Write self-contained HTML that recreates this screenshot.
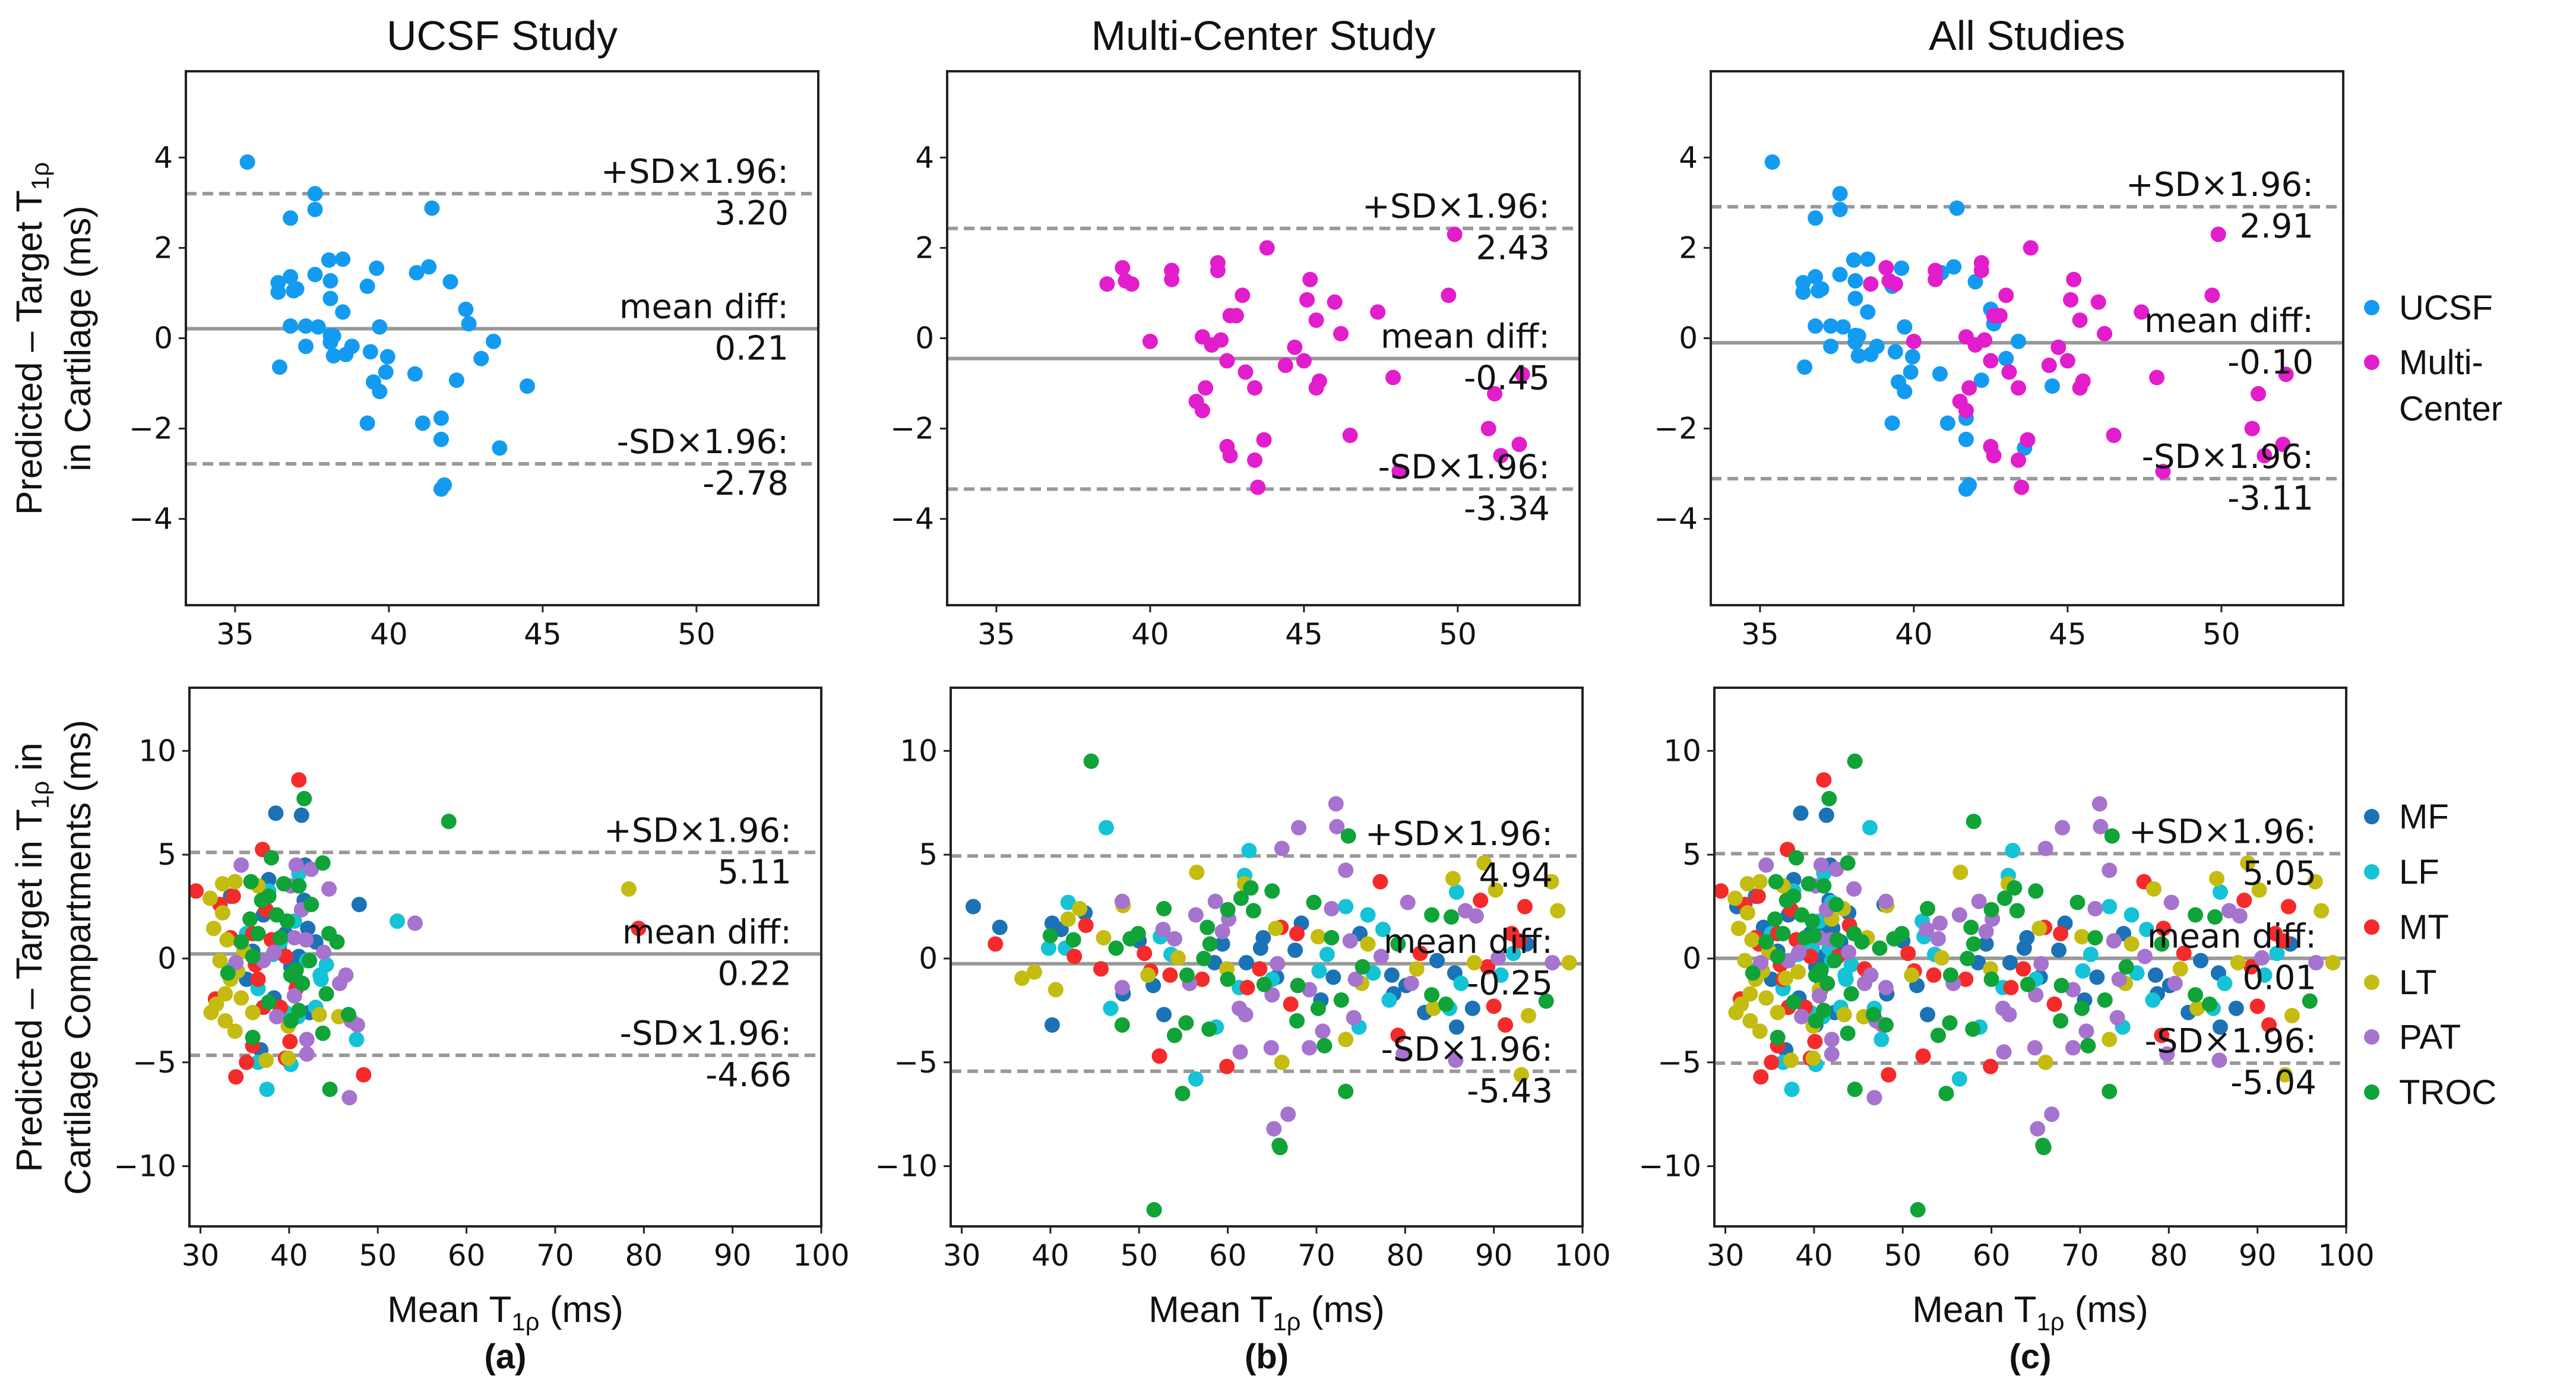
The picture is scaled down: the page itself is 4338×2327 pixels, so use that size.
<!DOCTYPE html>
<html><head><meta charset="utf-8"><style>
html,body{margin:0;padding:0;background:#fff}
svg{display:block}
text{font-family:"Liberation Sans",sans-serif;fill:#111}
.m{font-family:"DejaVu Sans","Liberation Sans",sans-serif}
</style></head><body>
<svg id="fig" width="4338" height="2327" viewBox="0 0 4338 2327" xmlns="http://www.w3.org/2000/svg"></svg>
<script>
// ---- Top row data: mean T1rho (x) and difference (y) ----
const ucsfX=[35.4,37.6,37.6,36.8,41.4,38.05,38.5,39.6,40.9,41.3,37.6,36.8,38.1,42.0,36.4,36.4,36.9,37.0,39.3,38.1,38.5,42.5,42.6,36.8,37.3,37.7,39.7,38.1,38.2,38.1,43.4,37.3,38.8,38.2,38.6,39.4,39.96,43.0,36.45,39.9,40.85,42.2,39.5,39.7,44.5,39.3,41.1,41.7,41.7,43.6,41.8,41.7];
const ucsfY=[3.9,3.2,2.85,2.66,2.88,1.73,1.75,1.55,1.45,1.58,1.41,1.36,1.27,1.25,1.23,1.02,1.05,1.09,1.15,0.88,0.58,0.64,0.32,0.27,0.27,0.25,0.25,0.06,0.05,-0.09,-0.07,-0.18,-0.18,-0.39,-0.36,-0.3,-0.41,-0.45,-0.64,-0.75,-0.79,-0.93,-0.97,-1.18,-1.06,-1.88,-1.88,-1.77,-2.24,-2.43,-3.25,-3.34];
const multiX=[38.6,39.1,39.2,39.4,40.0,40.7,40.7,42.2,42.2,42.6,42.8,43.8,43.0,42.0,42.3,42.5,41.8,41.7,41.5,42.5,42.6,43.4,43.5,43.7,43.1,43.4,44.4,44.7,45.2,45.1,45.4,45.5,45.4,46.0,46.2,46.5,47.4,47.9,48.1,49.7,49.9,51.0,51.2,51.4,52.1,52.0,45.0,41.7];
const multiY=[1.2,1.56,1.27,1.2,-0.07,1.5,1.3,1.67,1.5,0.5,0.5,2.0,0.95,-0.15,-0.04,-0.5,-1.1,-1.6,-1.4,-2.4,-2.6,-2.7,-3.3,-2.25,-0.75,-1.1,-0.6,-0.2,1.3,0.85,0.4,-0.95,-1.1,0.8,0.1,-2.15,0.58,-0.87,-2.95,0.95,2.3,-2.0,-1.23,-2.6,-0.8,-2.35,-0.5,0.03];
// ---- Bottom row data: per compartment, UCSF (u) and Multi-center (m) ----
const uMFx=[38.5,41.4,47.9,37.7,41.8,42.1,42.3,35.9,39.6,33.4,37.1,40.8,38.3,41.1,35.2,43.0,41.7,36.8,38.9,40.2];
const uMFy=[7.0,6.9,2.6,3.8,4.5,1.45,-2.6,0.35,1.2,3.0,2.1,-1.0,-1.9,0.1,-1.0,0.8,2.8,-4.4,0.6,-0.4];
const uLFx=[52.2,37.5,40.2,47.6,40.6,36.5,39.0,35.2,42.0,43.5,33.4,37.7,43.6,41.0,39.6,41.1,43.0,36.5,38.2,44.2];
const uLFy=[1.8,-6.3,-5.1,-3.9,1.8,-1.45,0.8,1.2,-0.1,-0.8,-0.55,3.25,-1.0,-2.8,-2.6,4.1,-2.35,-5.0,0.2,-0.3];
const uMTx=[41.1,37.0,29.5,79.4,48.4,34.0,35.2,35.9,40.1,31.7,33.7,37.4,35.9,39.6,33.4,36.5,39.0,40.8,32.2,37.1,39.6,36.2,38.0];
const uMTy=[8.6,5.25,3.25,1.45,-5.6,-5.7,-5.0,-4.2,-4.0,-1.95,3.0,2.35,1.2,0.1,1.0,-1.0,-2.35,-1.45,2.6,-2.35,-4.8,-0.3,0.9];
const uLTx=[78.3,31.1,31.2,32.8,33.9,32.5,33.9,31.5,32.5,32.2,33.4,34.6,32.8,37.4,39.9,35.9,34.9,36.5,43.4,45.6,39.9,33.0,34.2,31.8];
const uLTy=[3.35,2.9,-2.6,-3.0,-3.5,3.6,3.7,1.45,2.2,-0.1,-1.0,-1.9,-1.7,-4.9,-4.8,-2.6,0.35,3.5,-2.7,-2.8,-3.25,0.9,-0.6,-2.2];
const uPATx=[34.6,40.8,42.5,44.5,54.2,46.8,47.7,46.4,45.7,42.0,38.6,41.4,40.6,38.3,34.0,40.6,42.0,40.2,37.1,47.0,43.9,41.9];
const uPATy=[4.5,4.5,4.3,3.35,1.7,-6.7,-3.2,-0.8,-1.2,-3.9,-2.8,2.35,1.0,0.3,-0.2,-1.8,-4.6,3.5,-0.1,-3.0,0.3,0.9];
const uTROCx=[41.7,58.0,43.8,38.0,35.7,39.4,41.1,42.5,37.7,35.6,36.5,39.0,40.8,40.2,44.5,45.4,42.3,33.1,44.2,37.7,35.9,40.2,46.7,44.6,43.8,41.1,35.9,38.6,34.6,36.9,39.8,41.5];
const uTROCy=[7.7,6.6,4.6,4.85,3.7,3.6,3.5,2.6,3.0,1.9,1.2,1.0,-0.55,-0.8,1.2,0.8,-0.1,-0.7,-1.7,-2.1,-3.8,-3.0,-2.7,-6.3,-3.6,-2.5,0.1,2.1,0.8,2.8,1.8,-1.2];
const mMFx=[31.3,34.3,40.2,40.2,41.2,43.9,48.2,50.0,51.6,52.8,58.5,59.4,63.7,64.0,62.1,65.5,68.3,67.6,70.5,71.9,74.9,78.5,78.7,80.1,82.2,83.6,85.6,85.8,87.6,93.7];
const mMFy=[2.5,1.5,1.7,-3.2,1.4,2.2,-1.7,0.85,-1.3,-2.7,-0.2,0.7,0.5,1.0,-0.2,-0.9,1.7,0.4,-2.0,-0.9,1.2,-0.8,-1.7,-1.3,-2.6,-0.1,-0.7,-3.3,-2.4,0.7];
const mLFx=[46.3,62.4,61.9,42.0,39.8,41.7,46.8,52.4,53.6,56.4,58.7,61.3,65.0,70.3,73.3,75.8,77.5,76.4,74.8,78.2,85.8,86.3,85.0,90.8,92.2,71.2];
const mLFy=[6.3,5.2,4.0,2.7,0.5,0.5,-2.4,1.05,0.2,-5.8,-3.3,-1.4,-1.0,-0.6,2.5,2.1,1.4,-0.7,-3.3,-2.0,3.2,-1.2,-2.4,-0.8,0.25,0.2];
const mMTx=[33.8,44.0,42.7,45.7,50.6,51.3,52.3,53.5,57.1,59.9,62.2,63.6,66.0,67.1,67.8,77.2,79.2,81.7,88.5,90.0,91.3,93.5,92.0,92.9,89.3];
const mMTy=[0.7,1.6,0.1,-0.5,0.25,-0.6,-4.7,-0.8,-1.0,-5.2,-1.4,-0.5,1.5,-2.2,1.2,3.7,-3.7,0.25,2.8,-2.3,-3.2,2.5,1.2,0.85,-0.4];
const mLTx=[36.8,38.2,40.6,42.0,43.3,46.0,48.2,51.0,54.4,56.5,59.9,61.9,65.4,66.1,70.2,73.3,75.1,75.8,81.3,83.2,85.4,88.9,90.2,93.9,93.1,96.5,97.2,98.5,87.8];
const mLTy=[-0.95,-0.65,-1.5,1.9,2.4,1.0,2.55,-0.8,0.03,4.15,-0.5,3.6,1.45,-5.0,1.05,-3.9,-1.2,0.7,-0.5,-2.4,3.85,4.6,3.3,-2.75,-5.6,3.7,2.3,-0.2,-0.2];
const mPATx=[48.1,48.1,52.7,54.0,55.7,56.4,58.6,59.4,60.1,61.3,62.0,61.4,64.9,65.2,66.8,65.0,65.6,66.1,68.0,69.2,69.2,70.7,72.2,72.3,73.3,71.7,73.8,74.2,74.4,77.3,80.3,80.7,79.8,85.7,86.8,88.0,90.5,96.6];
const mPATy=[2.75,-1.4,1.4,0.95,-1.2,2.1,2.75,1.3,1.9,-2.4,-2.7,-4.5,-4.3,-8.2,-7.5,-1.75,-0.25,5.3,6.3,-4.3,-1.5,-3.5,7.45,6.35,4.25,2.4,0.85,-2.85,-1.0,0.1,2.7,-1.2,-4.6,-4.9,2.3,2.05,0.03,-0.2];
const mTROCx=[44.6,40.0,42.6,47.4,48.1,49.0,49.9,52.8,54.0,54.9,55.4,55.3,57.7,58.0,57.9,57.3,60.0,60.0,61.5,62.6,62.9,64.1,65.0,65.9,65.8,67.9,67.8,69.7,70.2,70.9,71.7,72.8,73.6,73.3,75.2,79.2,83.0,83.0,84.6,85.2,95.9,51.7];
const mTROCy=[9.5,1.1,0.9,0.5,-3.2,0.95,1.2,2.4,-3.7,-6.5,-0.8,-3.1,1.5,0.7,-3.4,0.0,2.35,-1.0,2.9,3.4,2.3,-1.25,3.25,-9.1,-9.0,-1.3,-3.0,2.7,-2.4,-4.2,1.0,-2.0,5.9,-6.4,-0.4,0.7,2.1,-1.75,-2.2,2.0,-2.05,-12.1];
// ---- Reference lines [upper, mean, lower] ----
const topLines=[[3.20,0.21,-2.78],[2.43,-0.45,-3.34],[2.91,-0.10,-3.11]];
const botLines=[[5.11,0.22,-4.66],[4.94,-0.25,-5.43],[5.05,0.01,-5.04]];
const topLineLabels=[["3.20","0.21","-2.78"],["2.43","-0.45","-3.34"],["2.91","-0.10","-3.11"]];
const botLineLabels=[["5.11","0.22","-4.66"],["4.94","-0.25","-5.43"],["5.05","0.01","-5.04"]];
const titles=["UCSF Study","Multi-Center Study","All Studies"];
const panelTags=["(a)","(b)","(c)"];
const topXTicks=[35,40,45,50];
const topYTicks=[-4,-2,0,2,4];
const botXTicks=[30,40,50,60,70,80,90,100];
const botYTicks=[-10,-5,0,5,10];
const compNames=["MF","LF","MT","LT","PAT","TROC"];

const compColors=["#1b72b6","#14c3d6","#f52a2a","#c4bc10","#a673cf","#10a337"];
const ucsfColor="#139bf2", multiColor="#e21dcc";
const NS="http://www.w3.org/2000/svg";
const svg=document.getElementById('fig');
function el(tag,attrs,parent){const e=document.createElementNS(NS,tag);for(const k in attrs)e.setAttribute(k,attrs[k]);(parent||svg).appendChild(e);return e;}
const offs=[0,1282,2568];
const TOP={x0:313,x1:1378,y0:120,y1:1019,xmin:33.4,xmax:53.96,ymin:-5.91,ymax:5.91};
const BOT={x0:319,x1:1383,y0:1158,y1:2065,xmin:28.76,xmax:100,ymin:-12.9,ymax:13.04};
function sx(P,o,v){return o+P.x0+(v-P.xmin)/(P.xmax-P.xmin)*(P.x1-P.x0);}
function sy(P,v){return P.y1-(v-P.ymin)/(P.ymax-P.ymin)*(P.y1-P.y0);}

function drawPanel(P,o,row,idx,series,lines,labels,xt,yt){
  const g=el('g',{});
  
  
  const clipId='c'+row+idx;
  const cp=el('clipPath',{id:clipId},g);
  el('rect',{x:o+P.x0,y:P.y0,width:P.x1-P.x0,height:P.y1-P.y0},cp);
  const lg=el('g',{'clip-path':'url(#'+clipId+')'},g);
  lines.forEach((v,i)=>{
    const ln=el('line',{x1:o+P.x0,x2:o+P.x1,y1:sy(P,v),y2:sy(P,v),stroke:'#999',"stroke-width":6,"stroke-dasharray":i===1?'none':'18 10'},lg);
    
    
  });
  const pg=el('g',{'clip-path':'url(#'+clipId+')'},g);
  series.forEach(s=>{
    for(let i=0;i<s.x.length;i++){
      const c=el('circle',{cx:sx(P,o,s.x[i]),cy:sy(P,s.y[i]),r:13,fill:s.c},pg);
      
      
    }
  });
  const heads=['+SD×1.96:','mean diff:','-SD×1.96:'];
  lines.forEach((v,i)=>{
    const yy=sy(P,v);
    const t1=el('text',{x:o+P.x1-50,y:yy-18,'text-anchor':'end','font-size':56,class:'m'},g);
    t1.textContent=heads[i];
    
    
    const t2=el('text',{x:o+P.x1-50,y:yy+52,'text-anchor':'end','font-size':56,class:'m'},g);
    t2.textContent=labels[i];
    
    
  });
  const fr=el('rect',{x:o+P.x0,y:P.y0,width:P.x1-P.x0,height:P.y1-P.y0,fill:'none',stroke:'#222','stroke-width':4},g);
  
  
  xt.forEach(v=>{
    const x=sx(P,o,v);
    el('line',{x1:x,x2:x,y1:P.y1,y2:P.y1+12,stroke:'#222','stroke-width':3},g);
    const t=el('text',{x:x,y:P.y1+66,'text-anchor':'middle','font-size':50,class:'m'},g);
    t.textContent=v;
    
    
  });
  yt.forEach(v=>{
    const y=sy(P,v);
    el('line',{x1:o+P.x0-12,x2:o+P.x0,y1:y,y2:y,stroke:'#222','stroke-width':3},g);
    const t=el('text',{x:o+P.x0-22,y:y+17,'text-anchor':'end','font-size':50,class:'m'},g);
    t.textContent=(v<0?'\u2212'+(-v):v);
    
    
  });
}

const uComp=[[uMFx,uMFy],[uLFx,uLFy],[uMTx,uMTy],[uLTx,uLTy],[uPATx,uPATy],[uTROCx,uTROCy]];
const mComp=[[mMFx,mMFy],[mLFx,mLFy],[mMTx,mMTy],[mLTx,mLTy],[mPATx,mPATy],[mTROCx,mTROCy]];
const topSeries=[
  [{x:ucsfX,y:ucsfY,c:ucsfColor,n:'ucsf'}],
  [{x:multiX,y:multiY,c:multiColor,n:'multi-center'}],
  [{x:ucsfX,y:ucsfY,c:ucsfColor,n:'ucsf'},{x:multiX,y:multiY,c:multiColor,n:'multi-center'}]
];
function compSeries(sets){return compNames.map((n,i)=>({x:[].concat(...sets.map(s=>s[i][0])),y:[].concat(...sets.map(s=>s[i][1])),c:compColors[i],n:n.toLowerCase()}));}
const botSeries=[compSeries([uComp]),compSeries([mComp]),compSeries([uComp,mComp])];

for(let i=0;i<3;i++){
  drawPanel(TOP,offs[i],'top',i,topSeries[i],topLines[i],topLineLabels[i],topXTicks,topYTicks);
  drawPanel(BOT,offs[i],'bottom',i,botSeries[i],botLines[i],botLineLabels[i],botXTicks,botYTicks);
  const cx=offs[i]+(TOP.x0+TOP.x1)/2;
  const t=el('text',{x:cx,y:84,'text-anchor':'middle','font-size':70});
  t.textContent=titles[i];
  
  
  const bx=offs[i]+(BOT.x0+BOT.x1)/2;
  const xl=el('text',{x:bx,y:2226,'text-anchor':'middle','font-size':62});
  xl.innerHTML='Mean T<tspan font-size="42" dy="14">1ρ</tspan><tspan dy="-14"> (ms)</tspan>';
  
  
  const tg=el('text',{x:bx,y:2304,'text-anchor':'middle','font-size':58,'font-weight':'bold'});
  tg.textContent=panelTags[i];
  
  
}
function ylab(cy,x,html){
  const t=el('text',{x:0,y:0,'text-anchor':'middle','font-size':61,transform:'translate('+x+','+cy+') rotate(-90)'});
  t.innerHTML=html;
  
  
}
ylab(570,70,'Predicted – Target  T<tspan font-size="42" dy="12">1ρ</tspan>');
ylab(570,152,'in Cartilage (ms)');
ylab(1612,70,'Predicted – Target in T<tspan font-size="42" dy="12">1ρ</tspan><tspan dy="-12"> in</tspan>');
ylab(1612,152,'Cartilage Compartments (ms)');
function legend(items,ys,name){
  const g=el('g',{});
  
  
  items.forEach((it,i)=>{
    el('circle',{cx:3994,cy:ys[i],r:13,fill:it.c},g);
    it.lines.forEach((l,j)=>{
      const t=el('text',{x:4040,y:ys[i]+20+j*78,'font-size':58},g);
      t.textContent=l;
      
      
    });
  });
}
legend([{c:ucsfColor,lines:['UCSF']},{c:multiColor,lines:['Multi-','Center']}],[518,610],'top-legend');
legend(compNames.map((n,i)=>({c:compColors[i],lines:[n]})),[1375,1468,1561,1654,1746,1839],'compartment-legend');
</script>
</body></html>
